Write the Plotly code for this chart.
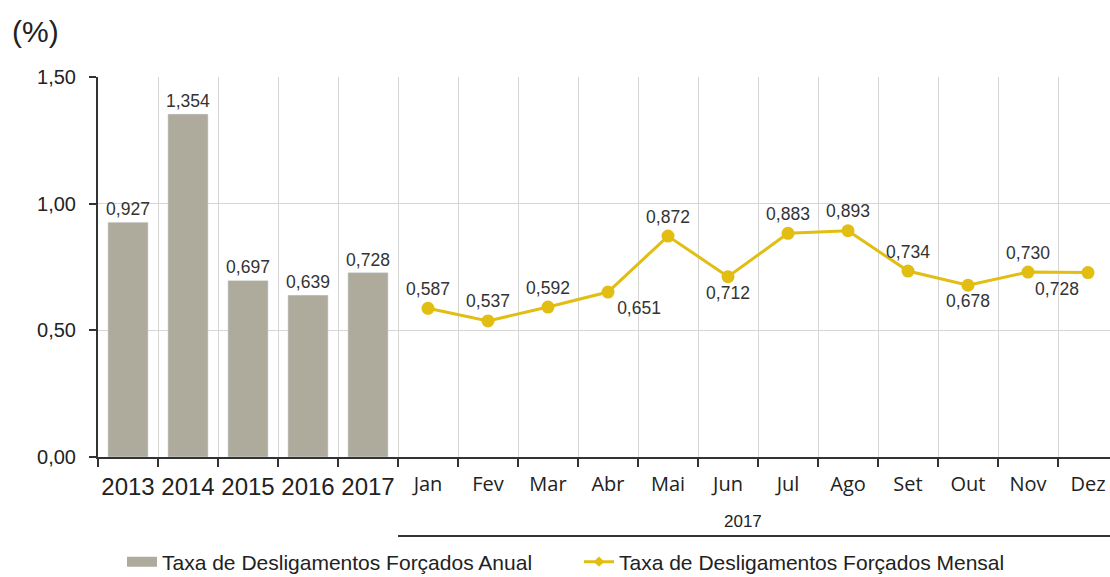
import plotly.graph_objects as go

years = ["2013", "2014", "2015", "2016", "2017"]
annual_rate = [0.927, 1.354, 0.697, 0.639, 0.728]
months = ["Jan", "Fev", "Mar", "Abr", "Mai", "Jun", "Jul", "Ago", "Set", "Out", "Nov", "Dez"]
monthly_rate = [0.587, 0.537, 0.592, 0.651, 0.872, 0.712, 0.883, 0.893, 0.734, 0.678, 0.730, 0.728]
label_pos = ["top center", "top center", "top center", "bottom right", "top center", "bottom center",
             "top center", "top center", "top center", "bottom center", "top center", "bottom left"]
y_ticks = [0, 0.5, 1.0, 1.5]
group_label = "2017"
name_annual = "Taxa de Desligamentos Forçados Anual"
name_monthly = "Taxa de Desligamentos Forçados Mensal"

W, H = 1110, 600
L, R, T = 98, 0, 77
PH = 380
B = H - T - PH
PW = W - L - R
slot = 60.0
n = len(years) + len(months)
x_right = -0.5 + PW / slot
xr = [-0.5, x_right]

x_years = list(range(len(years)))
x_months = list(range(len(years), n))

BAR = "#aeab9d"
GOLD = "#e2bd12"
DARK = "#333333"
GRID = "#d6d6d6"
FONT = "Liberation Sans, Arial, sans-serif"


def py(page_y):
    return (457 - page_y) / PH


def px(page_x):
    return (page_x - 98) / PW


fig = go.Figure()
fig.add_trace(go.Bar(
    x=x_years, y=annual_rate, name=name_annual, marker_color=BAR, width=0.67,
    texttemplate="%{y:.3f}", textposition="outside", cliponaxis=False, constraintext="none",
    textfont=dict(size=17.5, color=DARK, family=FONT), showlegend=False,
))
fig.add_trace(go.Scatter(
    x=x_months, y=monthly_rate, mode="lines+markers+text", name=name_monthly,
    line=dict(color=GOLD, width=3), marker=dict(size=13, color=GOLD),
    texttemplate="%{y:.3f}", textposition=label_pos, cliponaxis=False,
    textfont=dict(size=17.5, color=DARK, family=FONT), showlegend=False,
))
# legend entries
fig.add_trace(go.Scatter(
    x=[None], y=[None], mode="lines", name=name_annual,
    line=dict(color=BAR, width=11),
))
fig.add_trace(go.Scatter(
    x=[None], y=[None], mode="lines+markers", name=name_monthly,
    line=dict(color=GOLD, width=3), marker=dict(size=8, color=GOLD, symbol="diamond"),
))

boundaries = [i - 0.5 for i in range(n + 1)]
fig.update_layout(
    width=W, height=H,
    margin=dict(l=L, r=R, t=T, b=B),
    paper_bgcolor="white", plot_bgcolor="white",
    separators=",.",
    font=dict(family=FONT, color=DARK),
    xaxis=dict(range=xr, tickmode="array", tickvals=boundaries, ticktext=[""] * len(boundaries),
               showgrid=True, gridcolor=GRID, gridwidth=1, ticks="outside", ticklen=8,
               tickcolor=DARK, tickwidth=2, showline=True, linecolor=DARK, linewidth=2,
               zeroline=False, fixedrange=True),
    xaxis2=dict(range=xr, overlaying="x", anchor="y", side="bottom", tickmode="array",
                tickvals=x_years, ticktext=years, showgrid=False, ticks="", showline=False,
                zeroline=False, tickfont=dict(size=24, family=FONT, color="#222"),
                ticklabelstandoff=13),
    xaxis3=dict(range=xr, overlaying="x", anchor="y", side="bottom", tickmode="array",
                tickvals=x_months, ticktext=months, showgrid=False, ticks="", showline=False,
                zeroline=False, tickfont=dict(size=20, family="Open Sans, sans-serif", color="#222"),
                ticklabelstandoff=13),
    yaxis=dict(range=[0, 1.5], tickmode="array", tickvals=y_ticks, tickformat=".2f",
               showgrid=True, gridcolor=GRID, gridwidth=1, ticks="outside", ticklen=7,
               tickcolor=DARK, tickwidth=2, showline=True, linecolor=DARK, linewidth=2,
               zeroline=False, tickfont=dict(size=20, family=FONT, color="#222"),
               ticklabelstandoff=9),
    legend=dict(orientation="h", x=px(122), y=py(562),
                xanchor="left", yanchor="middle", font=dict(size=21, family=FONT, color="#222"),
                entrywidth=412, entrywidthmode="pixels", itemwidth=30, bgcolor="rgba(0,0,0,0)"),
)

# phantom traces to activate the overlaying label axes
fig.add_trace(go.Scatter(x=[None], y=[None], xaxis="x2", showlegend=False, hoverinfo="skip"))
fig.add_trace(go.Scatter(x=[None], y=[None], xaxis="x3", showlegend=False, hoverinfo="skip"))

fig.add_annotation(text="(%)", xref="paper", yref="paper", x=px(10),
                   y=py(31), xanchor="left", yanchor="middle", showarrow=False,
                   font=dict(size=30, family=FONT, color="#222"))
fig.add_annotation(text=group_label, xref="x", yref="paper", x=x_months[5] + 0.25,
                   y=py(521), xanchor="center", yanchor="middle", showarrow=False,
                   font=dict(size=17, family=FONT, color="#222"))
fig.add_shape(type="line", xref="x", yref="paper", x0=len(years) - 0.5, x1=x_right,
              y0=py(536), y1=py(536), line=dict(color=DARK, width=2))

fig.write_html(
    "out.html",
    config={"displayModeBar": False},
    post_script="document.body.style.margin='0';document.body.style.overflow='hidden';"
                "document.documentElement.style.overflow='hidden';",
)
